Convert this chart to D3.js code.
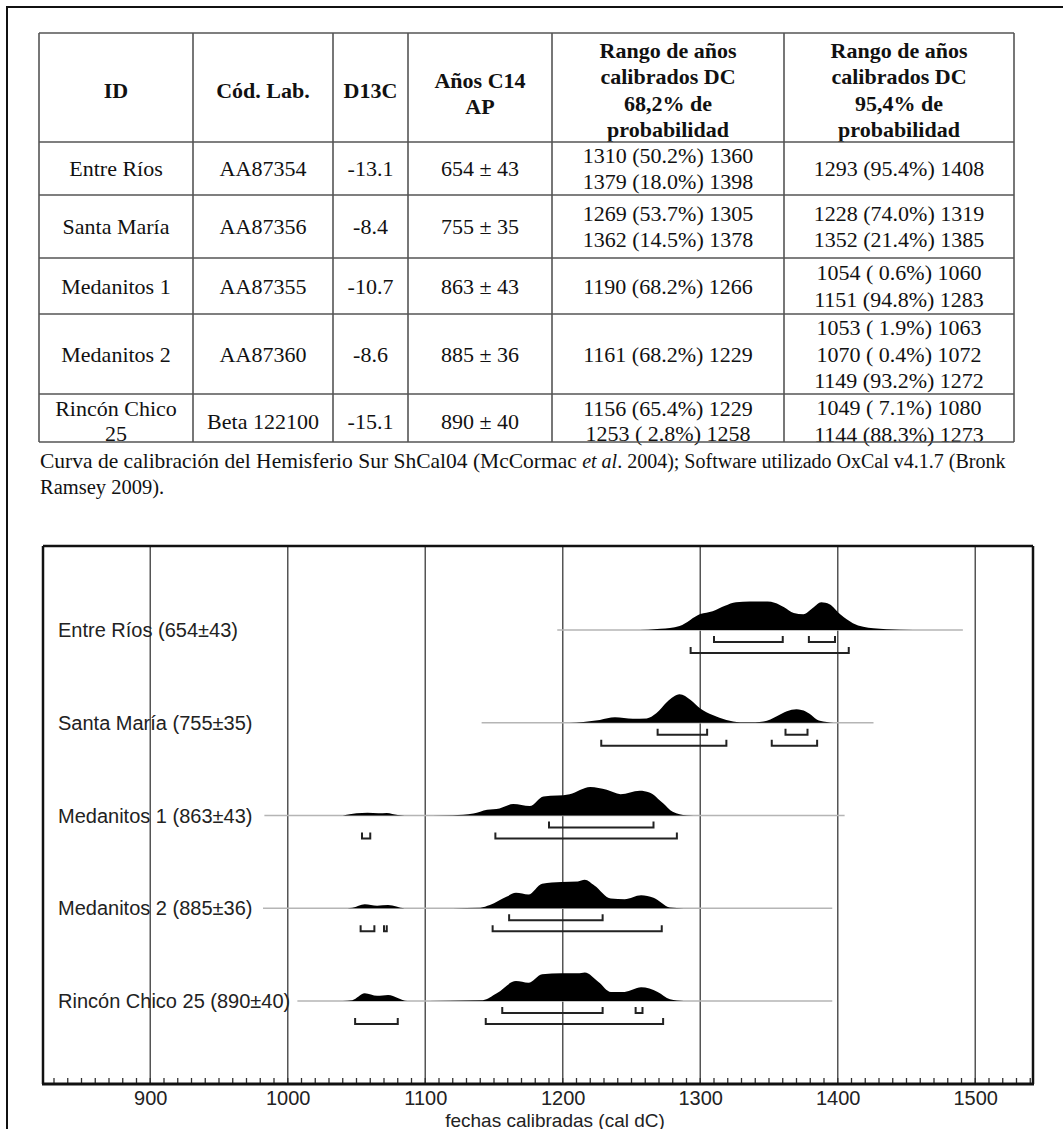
<!DOCTYPE html>
<html><head><meta charset="utf-8">
<script src="https://cdn.jsdelivr.net/npm/d3@7"></script>
<style>body{margin:0;background:#fff}svg{display:block}</style>
</head><body>
<svg id="c" width="1063" height="1129"></svg>
<script>
// ---------- data ----------
const samples = ["Entre Ríos","Santa María","Medanitos 1","Medanitos 2","Rincón Chico 25"];
const tableIds = [["Entre Ríos"],["Santa María"],["Medanitos 1"],["Medanitos 2"],["Rincón Chico","25"]];
const labCodes = ["AA87354","AA87356","AA87355","AA87360","Beta 122100"];
const d13c = ["-13.1","-8.4","-10.7","-8.6","-15.1"];
const c14Age = [654,755,863,885,890];
const c14Err = [43,35,43,36,40];
const range68 = [
  [[1310,50.2,1360],[1379,18.0,1398]],
  [[1269,53.7,1305],[1362,14.5,1378]],
  [[1190,68.2,1266]],
  [[1161,68.2,1229]],
  [[1156,65.4,1229],[1253,2.8,1258]]
];
const range95 = [
  [[1293,95.4,1408]],
  [[1228,74.0,1319],[1352,21.4,1385]],
  [[1054,0.6,1060],[1151,94.8,1283]],
  [[1053,1.9,1063],[1070,0.4,1072],[1149,93.2,1272]],
  [[1049,7.1,1080],[1144,88.3,1273]]
];
const headers = [["ID"],["Cód. Lab."],["D13C"],["Años C14","AP"],
  ["Rango de años","calibrados DC","68,2% de","probabilidad"],
  ["Rango de años","calibrados DC","95,4% de","probabilidad"]];
const xTicks = [900,1000,1100,1200,1300,1400,1500];
const xTitle = "fechas calibradas (cal dC)";
const lineSpans = [[1196,1491],[1141,1426],[983,1405],[982,1396],[1007,1396]];
// relative probability (year, p)
const probEntreRios = [[1250,0],[1262,0.01],[1271,0.04],[1285,0.14],[1300,0.56],[1309,0.66],[1318,0.85],[1326,0.97],[1336,1.0],[1349,1.0],[1354,0.96],[1361,0.8],[1368,0.6],[1375,0.55],[1382,0.78],[1388,0.97],[1394,0.9],[1402,0.54],[1411,0.24],[1426,0.06],[1445,0.01],[1465,0]];
const probSantaMaria = [[1205,0],[1215,0.03],[1227,0.1],[1238,0.19],[1251,0.14],[1261,0.15],[1268,0.33],[1276,0.74],[1285,1.0],[1293,0.8],[1300,0.5],[1309,0.27],[1319,0.1],[1329,0.02],[1340,0.02],[1346,0.04],[1356,0.24],[1363,0.4],[1370,0.47],[1377,0.39],[1387,0.07],[1397,0]];
const probMedanitos1 = [[1040,0],[1050,0.08],[1058,0.1],[1066,0.08],[1072,0.09],[1080,0.02],[1090,0],[1120,0.01],[1135,0.07],[1145,0.2],[1154,0.25],[1164,0.4],[1176,0.33],[1186,0.67],[1196,0.7],[1205,0.75],[1220,1.0],[1232,0.9],[1242,0.75],[1256,0.87],[1263,0.81],[1273,0.43],[1280,0.13],[1290,0.01],[1300,0]];
const probMedanitos2 = [[1040,0],[1047,0.02],[1056,0.14],[1065,0.09],[1073,0.11],[1085,0],[1100,0],[1140,0.02],[1147,0.11],[1159,0.4],[1166,0.54],[1175,0.48],[1185,0.86],[1199,0.92],[1211,0.94],[1216,1.0],[1223,0.8],[1235,0.34],[1245,0.32],[1257,0.46],[1266,0.37],[1278,0.03],[1288,0]];
const probRinconChico = [[1040,0],[1047,0.03],[1056,0.27],[1065,0.18],[1073,0.21],[1087,0],[1118,0.01],[1142,0.03],[1152,0.27],[1166,0.7],[1175,0.64],[1185,0.94],[1199,0.97],[1211,0.97],[1216,1.0],[1226,0.67],[1235,0.32],[1245,0.32],[1257,0.48],[1269,0.32],[1278,0.06],[1288,0]];
const probs = [probEntreRios, probSantaMaria, probMedanitos1, probMedanitos2, probRinconChico];
const captionA = "Curva de calibración del Hemisferio Sur ShCal04 (McCormac ";
const captionB = "et al";
const captionC = ". 2004); Software utilizado OxCal v4.1.7 (Bronk";
const captionD = "Ramsey 2009).";

// ---------- drawing ----------
const svg = d3.select("#c");
const serif = "'Liberation Serif','Times New Roman',serif";
const sans = "'Liberation Sans',Arial,sans-serif";

// outer frame
svg.append("rect").attr("x",7).attr("y",7).attr("width",1100).attr("height",1200)
  .attr("fill","none").attr("stroke","#111").attr("stroke-width",2);

// ----- table -----
const colX = [39,193,333,408,552,784,1014];
const rowY = [33,142,195,258,314,394,442];
const tg = svg.append("g");
const txg = tg.append("g");
const lng = tg.append("g");
lng.selectAll("line.h").data(rowY).join("line")
  .attr("x1",colX[0]).attr("x2",colX[colX.length-1]).attr("y1",d=>d).attr("y2",d=>d)
  .attr("stroke","#555").attr("stroke-width",1.6);
lng.selectAll("line.v").data(colX).join("line")
  .attr("y1",rowY[0]).attr("y2",rowY[rowY.length-1]).attr("x1",d=>d).attr("x2",d=>d)
  .attr("stroke","#555").attr("stroke-width",1.6);

function cellText(lines, col, row, bold, lh, dy){
  const cx = (colX[col]+colX[col+1])/2;
  const cy = (rowY[row]+rowY[row+1])/2 + (dy||0);
  const n = lines.length;
  lines.forEach((t,i)=>{
    txg.append("text").attr("x",cx).attr("y",cy + (i-(n-1)/2)*lh + 7.5)
      .attr("text-anchor","middle").attr("font-family",serif).attr("font-size",22)
      .attr("font-weight",bold?"bold":"normal").attr("fill","#111").text(t);
  });
}
headers.forEach((h,c)=>cellText(h,c,0,true,26.5,c===3?6:2.5));
const fmtR = r => `${r[0]} (${r[1]<10?" ":""}${r[1].toFixed(1)}%) ${r[2]}`;
samples.forEach((s,i)=>{
  const dy = i===4 ? 3 : 0;
  cellText(tableIds[i],0,i+1,false,25.5,dy);
  cellText([labCodes[i]],1,i+1,false,25.5,dy);
  cellText([d13c[i]],2,i+1,false,25.5,dy);
  cellText([`${c14Age[i]} ± ${c14Err[i]}`],3,i+1,false,25.5,dy);
  cellText(range68[i].map(fmtR),4,i+1,false,25.5,dy);
  cellText(range95[i].map(fmtR),5,i+1,false,26.5,dy);
});

// caption
const cap1 = svg.append("text").attr("x",40).attr("y",468).attr("font-family",serif).attr("fill","#111");
cap1.append("tspan").attr("font-size",21.5).text(captionA);
cap1.append("tspan").attr("font-size",20).attr("font-style","italic").text(captionB);
cap1.append("tspan").attr("font-size",20).text(captionC);
svg.append("text").attr("x",40).attr("y",494).attr("font-family",serif).attr("font-size",20.5)
  .attr("fill","#111").text(captionD);

// ----- chart -----
const L = 43, R = 1033, T = 546, B = 1084;
const x = d3.scaleLinear().domain([822,1542]).range([L,R]);
const y = d3.scalePoint().domain(samples).range([630,1001]);
const h = d3.scaleLinear().domain([0,1]).range([0,28.5]);
const cg = svg.append("g");

// gridlines
cg.selectAll("line.grid").data(xTicks).join("line")
  .attr("x1",d=>x(d)).attr("x2",d=>x(d)).attr("y1",T).attr("y2",B)
  .attr("stroke","#555").attr("stroke-width",1.5);

// frame
cg.append("line").attr("x1",L).attr("x2",R).attr("y1",T).attr("y2",T).attr("stroke","#111").attr("stroke-width",2.5);
cg.append("line").attr("x1",L).attr("x2",L).attr("y1",T).attr("y2",B).attr("stroke","#111").attr("stroke-width",2.5);
cg.append("line").attr("x1",R).attr("x2",R).attr("y1",T).attr("y2",B).attr("stroke","#111").attr("stroke-width",2.5);

// baselines
samples.forEach((s,i)=>{
  cg.append("line").attr("x1",x(lineSpans[i][0])).attr("x2",x(lineSpans[i][1]))
    .attr("y1",y(s)).attr("y2",y(s)).attr("stroke","#b5b5b5").attr("stroke-width",1.6);
});

// distributions
samples.forEach((s,i)=>{
  const base = y(s);
  const area = d3.area().x(d=>x(d[0])).y0(base).y1(d=>base-h(d[1])).curve(d3.curveMonotoneX);
  cg.append("path").attr("d",area(probs[i])).attr("fill","#000");
});

// brackets
function bracket(r, yy){
  const x1 = x(r[0]), x2 = x(r[2]);
  return `M${x1},${yy-6}V${yy}H${x2}V${yy-6}`;
}
samples.forEach((s,i)=>{
  const base = y(s);
  range68[i].forEach(r=>cg.append("path").attr("d",bracket(r,base+12)).attr("fill","none")
    .attr("stroke","#222").attr("stroke-width",2));
  range95[i].forEach(r=>cg.append("path").attr("d",bracket(r,base+23)).attr("fill","none")
    .attr("stroke","#222").attr("stroke-width",2));
});

// labels
samples.forEach((s,i)=>{
  cg.append("text").attr("x",58).attr("y",y(s)+7).attr("font-family",sans).attr("font-size",20)
    .attr("fill","#222").text(`${s} (${c14Age[i]}±${c14Err[i]})`);
});

// axis
const minor = d3.range(830,1541,10);
cg.selectAll("line.minor").data(minor).join("line")
  .attr("x1",d=>x(d)).attr("x2",d=>x(d)).attr("y1",B-6).attr("y2",B)
  .attr("stroke","#333").attr("stroke-width",1.3);
const axis = d3.axisBottom(x).tickValues(xTicks).tickSize(0).tickPadding(7).tickFormat(d3.format("d"));
const ag = cg.append("g").attr("transform",`translate(0,${B})`).call(axis);
ag.select(".domain").remove();
ag.selectAll("text").attr("font-family",sans).attr("font-size",20).attr("fill","#222");
cg.append("line").attr("x1",L-1).attr("x2",R+1).attr("y1",B).attr("y2",B).attr("stroke","#111").attr("stroke-width",3);
cg.append("text").attr("x",555).attr("y",1127).attr("text-anchor","middle").attr("font-family",sans)
  .attr("font-size",19).attr("fill","#222").text(xTitle);
</script>
</body></html>
